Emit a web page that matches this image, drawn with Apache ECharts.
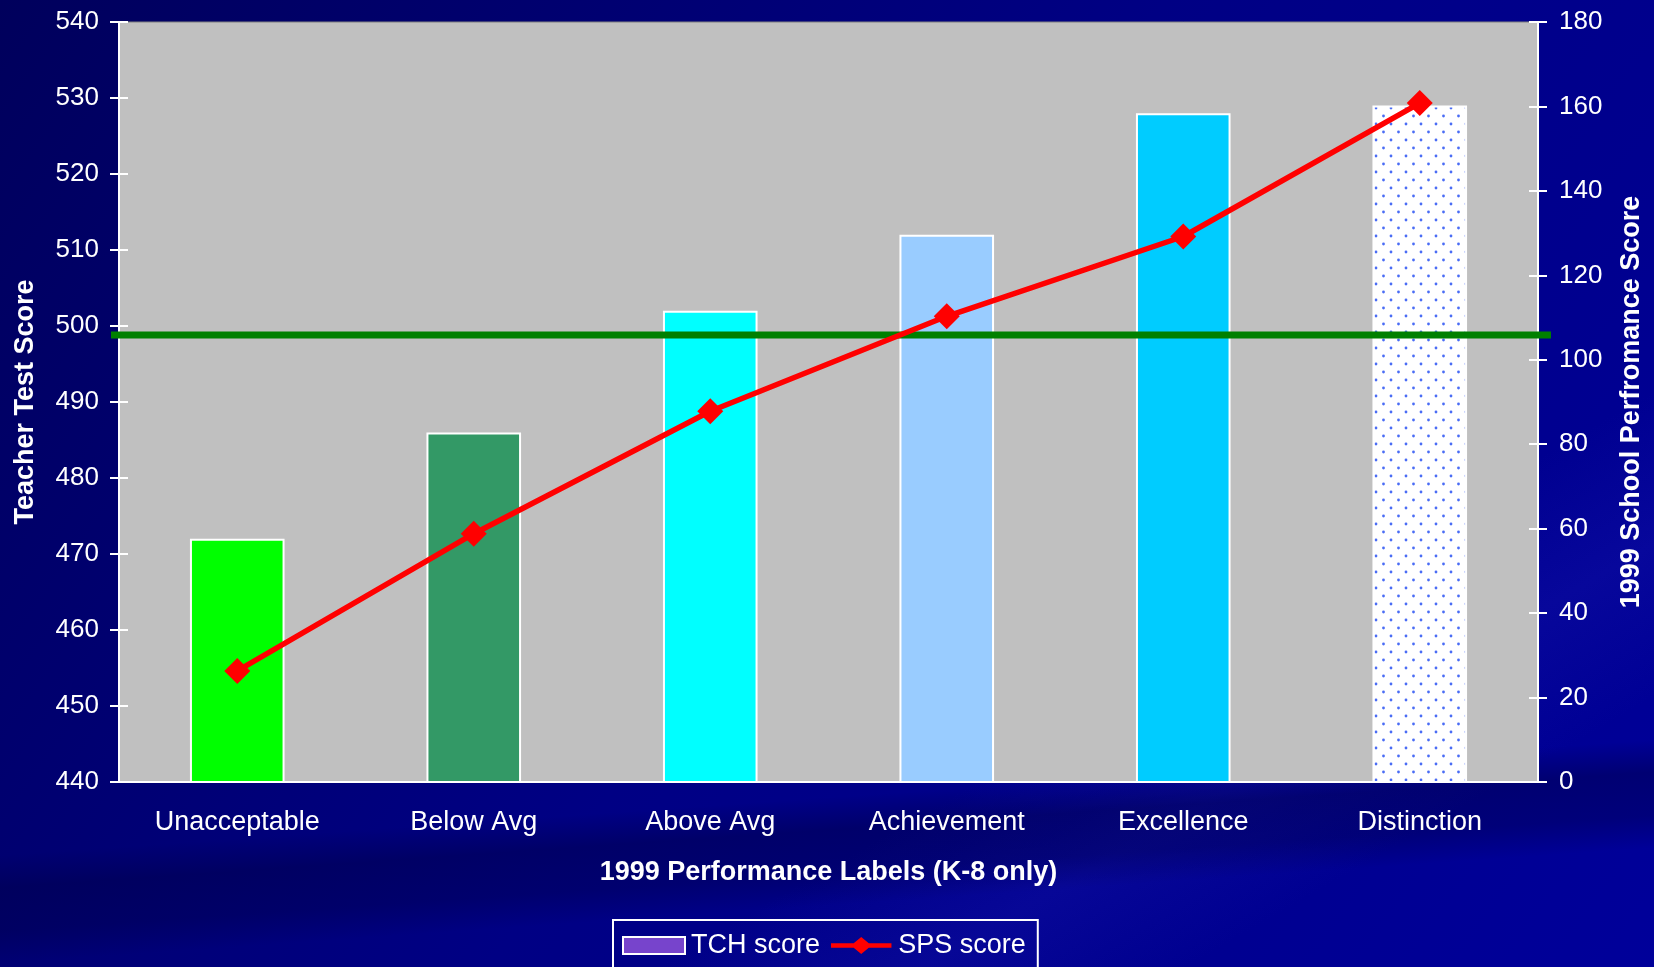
<!DOCTYPE html>
<html>
<head>
<meta charset="utf-8">
<script src="https://cdn.jsdelivr.net/npm/echarts@6/dist/echarts.min.js"></script>
<style>
  html, body { margin: 0; padding: 0; }
  body {
    width: 1654px; height: 967px; overflow: hidden;
    background:
      linear-gradient(176deg, rgba(0,0,0,0) 79%, rgba(0,0,70,0.45) 82%, rgba(0,0,70,0.35) 86%, rgba(0,0,0,0) 89%),
      linear-gradient(150deg, rgba(0,0,0,0) 70%, rgba(20,20,170,0.35) 78%, rgba(0,0,0,0) 86%),
      linear-gradient(125deg, #00005c 0%, #000070 25%, #000084 50%, #00008e 75%, #00009a 100%);
  }
  #chart { width: 1654px; height: 967px; }
</style>
</head>
<body>
<div id="chart"></div>
<script>
// Performance label categories
const categories = ['Unacceptable', 'Below Avg', 'Above Avg', 'Achievement', 'Excellence', 'Distinction'];
// Average teacher test score per label (left axis)
const tchScores = [472, 486, 502, 512, 528, 529];
// Average 1999 school performance score per label (right axis)
const spsScores = [26.3, 58.8, 87.8, 110.3, 129.2, 160.8];
// Reference level drawn as the green horizontal line (teacher score)
const tchReference = 498.8;
// Axis ranges
const leftAxis = { min: 440, max: 540, interval: 10 };
const rightAxis = { min: 0, max: 180, interval: 20 };

const GRID = { left: 119, right: 116, top: 22, bottom: 185 };
const FONT = '"Liberation Sans", Arial, sans-serif';

// Dotted fill for the Distinction bar
function dotPattern() {
  const c = document.createElement('canvas');
  c.width = 15; c.height = 16;
  const g = c.getContext('2d');
  g.fillStyle = '#ffffff';
  g.fillRect(0, 0, 15, 16);
  g.fillStyle = '#4a6cf5';
  [[3.5, 4], [11, 12]].forEach(([x, y]) => {
    g.beginPath(); g.arc(x, y, 1.4, 0, Math.PI * 2); g.fill();
  });
  return c;
}

const barFills = ['#00ff00', '#339966', '#00ffff', '#99ccff', '#00ccff',
  { image: dotPattern(), repeat: 'repeat' }];

// Legend glyph for the score line: thick stroke with a diamond in the middle
const lineLegendIcon = 'path://M0,-2.5 L24,-2.5 L32,-9 L40,-2.5 L64,-2.5 L64,2.5 L40,2.5 L32,9 L24,2.5 L0,2.5 Z';

const chart = echarts.init(document.getElementById('chart'), null, { renderer: 'canvas' });

const tickStyle = { color: '#ffffff', width: 2 };
const labelText = { color: '#ffffff', fontFamily: FONT, fontSize: 26 };
const nameText = { color: '#ffffff', fontFamily: FONT, fontSize: 27, fontWeight: 'bold' };

chart.setOption({
  backgroundColor: 'transparent',
  animation: false,
  grid: {
    left: GRID.left, right: GRID.right, top: GRID.top, bottom: GRID.bottom,
    show: true, backgroundColor: '#c0c0c0', borderColor: '#808080', borderWidth: 1
  },
  legend: {
    left: 613, top: 920,
    padding: [12, 12, 16, 9],
    borderColor: '#ffffff', borderWidth: 2,
    itemWidth: 62, itemHeight: 17, itemGap: 11,
    textStyle: { color: '#ffffff', fontFamily: FONT, fontSize: 27, padding: [0, 0, 0, 1] },
    data: [
      { name: 'TCH score', icon: 'rect' },
      { name: 'SPS score', icon: lineLegendIcon, itemStyle: { color: '#ff0000', borderWidth: 0 } }
    ]
  },
  xAxis: [
    {
      type: 'category', data: categories,
      name: '1999 Performance Labels (K-8 only)',
      nameLocation: 'middle', nameGap: 77, nameTextStyle: nameText,
      axisLine: { lineStyle: { color: '#ffffff', width: 2 } },
      axisTick: { length: 9, lineStyle: tickStyle },
      axisLabel: Object.assign({ margin: 27 }, labelText, { fontSize: 27 })
    },
    {
      type: 'category', data: categories, position: 'bottom',
      axisLine: { show: false },
      axisTick: { inside: true, length: 9, lineStyle: tickStyle },
      axisLabel: { show: false }
    }
  ],
  yAxis: [
    {
      type: 'value', position: 'left',
      min: leftAxis.min, max: leftAxis.max, interval: leftAxis.interval,
      name: 'Teacher Test Score', nameLocation: 'middle', nameGap: 80,
      nameTextStyle: nameText,
      axisLine: { show: true, lineStyle: { color: '#ffffff', width: 2 } },
      axisTick: { show: true, length: 9, lineStyle: tickStyle },
      axisLabel: Object.assign({ margin: 20 }, labelText),
      splitLine: { show: false }
    },
    {
      type: 'value', position: 'right',
      min: rightAxis.min, max: rightAxis.max, interval: rightAxis.interval,
      name: '1999 School Perfromance Score', nameLocation: 'middle', nameGap: 80,
      nameRotate: 90,
      nameTextStyle: nameText,
      axisLine: { show: true, lineStyle: { color: '#ffffff', width: 2 } },
      axisTick: { show: true, length: 9, lineStyle: tickStyle },
      axisLabel: Object.assign({ margin: 21 }, labelText),
      splitLine: { show: false }
    },
    {
      type: 'value', position: 'left',
      min: leftAxis.min, max: leftAxis.max, interval: leftAxis.interval,
      axisLine: { show: false },
      axisTick: { show: true, inside: true, length: 9, lineStyle: tickStyle },
      axisLabel: { show: false }, splitLine: { show: false }
    },
    {
      type: 'value', position: 'right',
      min: rightAxis.min, max: rightAxis.max, interval: rightAxis.interval,
      axisLine: { show: false },
      axisTick: { show: true, inside: true, length: 9, lineStyle: tickStyle },
      axisLabel: { show: false }, splitLine: { show: false }
    }
  ],
  series: [
    {
      name: 'TCH score', type: 'bar', yAxisIndex: 0,
      barWidth: '40%',
      itemStyle: { color: '#7744cc', borderColor: '#ffffff', borderWidth: 2 },
      data: tchScores.map((v, i) => ({ value: v, itemStyle: { color: barFills[i] } }))
    },
    {
      name: 'SPS score', type: 'line', yAxisIndex: 1, z: 10,
      symbol: 'diamond', symbolSize: 26,
      lineStyle: { color: '#ff0000', width: 5.5 },
      itemStyle: { color: '#ff0000' },
      data: spsScores
    }
  ]
});

// Green reference line across the plot, placed through the left value axis
const refY = chart.convertToPixel({ yAxisIndex: 0 }, tchReference);
chart.setOption({
  graphic: [{
    type: 'line', z: 5,
    shape: { x1: GRID.left - 8, y1: refY, x2: 1654 - GRID.right + 13, y2: refY },
    style: { stroke: '#008000', lineWidth: 7 }
  }]
});
</script>
</body>
</html>
